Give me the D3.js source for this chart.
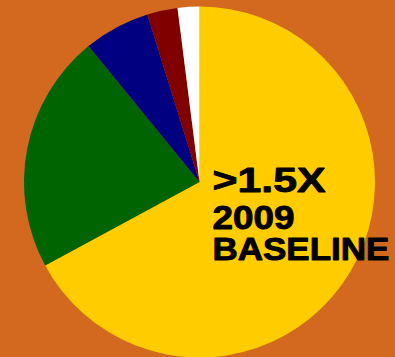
<!DOCTYPE html>
<html>
<head>
<meta charset="utf-8">
<script src="https://cdn.jsdelivr.net/npm/d3@7"></script>
<style>
  html, body { margin: 0; padding: 0; background: #d2691e; }
  svg { display: block; }
</style>
</head>
<body>
<div id="chart"></div>
<script>
// slice shares in percent, clockwise from 12 o'clock
var categories = ["A", "B", "C", "D", "E"];
var values = [67.1, 22.0, 6.1, 2.8, 2.0];
var colors = ["#ffcc00", "#006400", "#000080", "#800000", "#ffffff"];
var labelLines = [">1.5X", "2009", "BASELINE"];

var width = 395,
    height = 357,
    cx = 199.5,
    cy = 182,
    radius = 175.5;

var svg = d3.select("#chart").append("svg")
    .attr("width", width)
    .attr("height", height);

svg.append("rect")
    .attr("width", width)
    .attr("height", height)
    .attr("fill", "#d2691e");

var z = d3.scaleOrdinal().domain(categories).range(colors);

var pie = d3.pie().sort(null).value(function(d) { return d.value; });
var arc = d3.arc().innerRadius(0).outerRadius(radius);

var data = categories.map(function(c, i) { return {id: c, value: values[i]}; });

var g = svg.append("g")
    .attr("transform", "translate(" + cx + "," + cy + ")");

g.selectAll(".slice")
  .data(pie(data))
  .enter().append("path")
    .attr("class", "slice")
    .attr("d", arc)
    .attr("fill", function(d) { return z(d.data.id); });

// label text, sizes; glyphs are wide so stretch each line
var lineStyle = [
  {size: 36, y: 9.5, len: 113},
  {size: 33, y: 46.5, len: 82},
  {size: 31, y: 78, len: 177}
];

var label = g.selectAll(".label")
  .data(labelLines)
  .enter().append("text")
    .attr("class", "label")
    .style("font-family", "'Liberation Sans', Arial, sans-serif")
    .style("font-weight", "bold")
    .style("font-size", function(d, i) { return lineStyle[i].size + "px"; })
    .attr("fill", "#000")
    .attr("stroke", "#000")
    .attr("stroke-width", 0.9)
    .attr("stroke-linejoin", "round")
    .text(function(d) { return d; });

label.attr("transform", function(d, i) {
  var w = this.getComputedTextLength();
  var s = lineStyle[i].len / w;
  return "translate(13," + lineStyle[i].y + ") scale(" + s + ",1)";
});
</script>
</body>
</html>
